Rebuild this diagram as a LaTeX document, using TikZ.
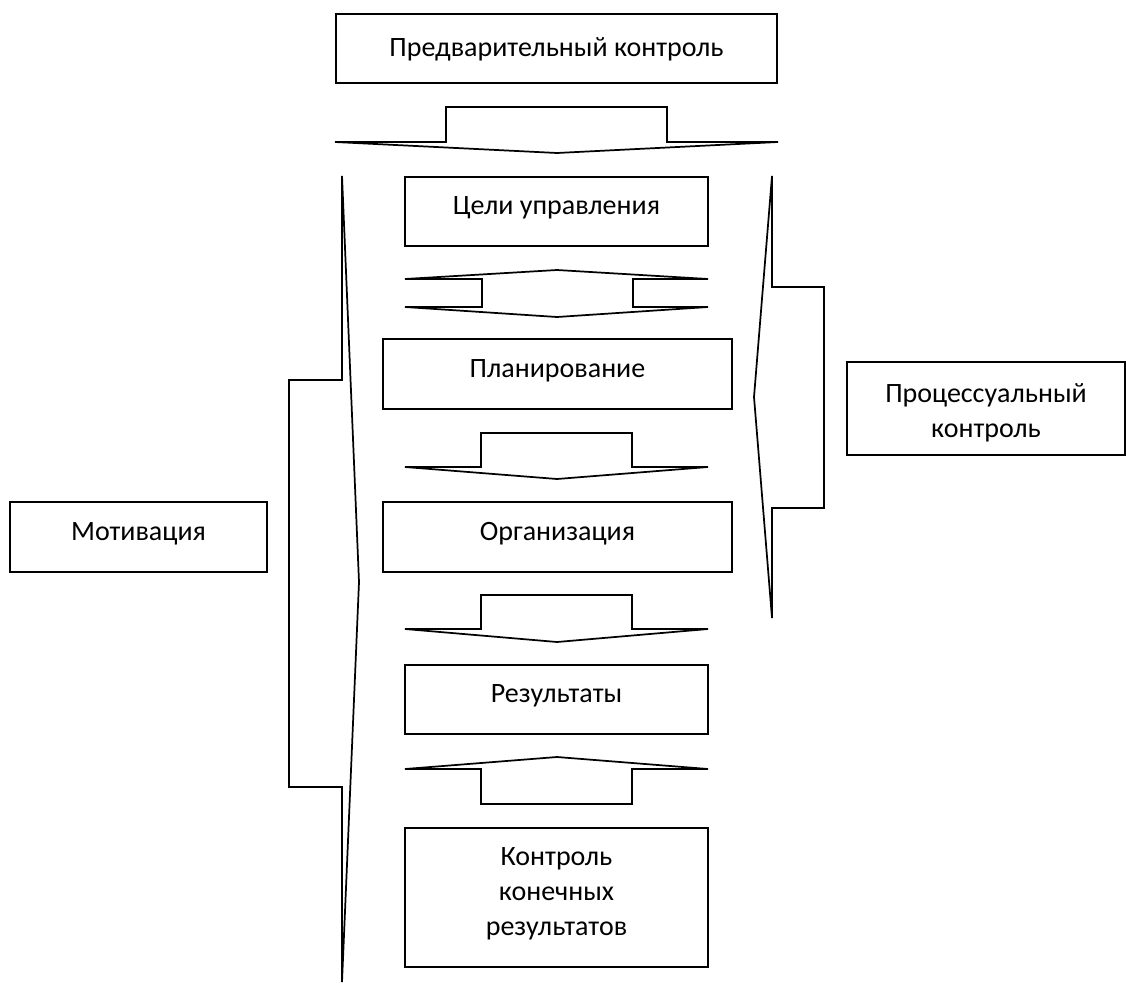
\documentclass[tikz,border=0pt]{standalone}
\usepackage{fontspec}
\setmainfont{Carlito}
\begin{document}
\begin{tikzpicture}[x=0.75pt,y=-0.75pt,
  box/.style={draw, line width=1.3pt, rectangle, inner sep=0pt,
    font=\fontsize{21}{26.25}\selectfont, align=center},
  oneline/.style={text height=10pt, text depth=5.5pt},
  blockarrow/.style={draw, line width=1.3pt, line join=miter}]
\useasboundingbox (0,0) rectangle (1126,984);
% boxes
\node[box, text height=17.5pt, text depth=5.5pt, minimum width=330.75pt, minimum height=51.75pt] (pre) at (556.5,48.5) {Предварительный контроль};
\node[box, oneline, minimum width=227.25pt, minimum height=51.75pt] (goals) at (556.5,211.5) {Цели управления};
\node[box, oneline, minimum width=261.75pt, minimum height=52.5pt] (plan) at (557.5,374) {Планирование};
\node[box, oneline, minimum width=261.75pt, minimum height=52.5pt] (org) at (557.5,537) {Организация};
\node[box, oneline, minimum width=227.25pt, minimum height=51.75pt] (res) at (556.5,699.5) {Результаты};
\node[box, minimum width=227.25pt, minimum height=104.25pt] (ctrl) at (556.5,897.5) {Контроль\\конечных\\результатов\rule[-9pt]{0pt}{9pt}};
\node[box, oneline, minimum width=192.75pt, minimum height=52.5pt] (mot) at (138.5,537) {Мотивация};
\node[box, minimum width=208.5pt, minimum height=69.75pt] (proc) at (986,408.5) {\rule{0pt}{21pt}Процессуальный\\контроль};
% block arrows
\draw[blockarrow] (446,107) -- (667,107) -- (667,142) -- (778,142) -- (557,153) -- (335,142) -- (446,142) -- cycle;
\draw[blockarrow] (405,279) -- (557,270) -- (708,279) -- (633,279) -- (633,307) -- (708,307) -- (557,317) -- (405,307) -- (482,307) -- (482,279) -- cycle;
\draw[blockarrow] (481,433) -- (632,433) -- (632,467) -- (708,467) -- (557,479) -- (405,467) -- (481,467) -- cycle;
\draw[blockarrow] (481,595) -- (632,595) -- (632,629) -- (708,629) -- (557,642) -- (405,629) -- (481,629) -- cycle;
\draw[blockarrow] (481,804) -- (632,804) -- (632,769) -- (708,769) -- (557,757) -- (405,769) -- (481,769) -- cycle;
\draw[blockarrow] (289,380) -- (342,380) -- (342,176) -- (359,582) -- (342,982) -- (342,787) -- (289,787) -- cycle;
\draw[blockarrow] (824,287) -- (772,287) -- (772,176) -- (754,397) -- (772,618) -- (772,508) -- (824,508) -- cycle;
\end{tikzpicture}
\end{document}
